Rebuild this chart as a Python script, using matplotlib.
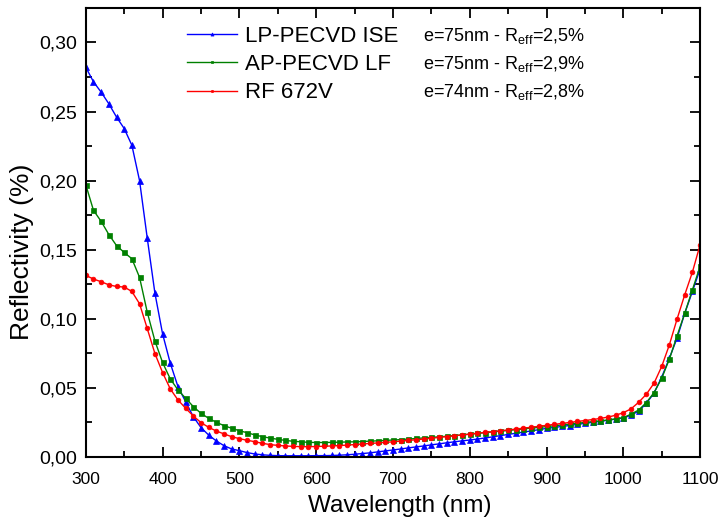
import matplotlib
matplotlib.use("Agg")
import matplotlib.pyplot as plt
from matplotlib.ticker import MultipleLocator, FuncFormatter

plt.rcParams['font.family'] = ['Liberation Sans', 'DejaVu Sans']
plt.rcParams['mathtext.default'] = 'regular'

wavelength = list(range(300, 1101, 10))

lp_pecvd_ise = [
    0.282, 0.2715, 0.264, 0.2556, 0.246, 0.2377, 0.2256, 0.200, 0.1585, 0.1186,
    0.0891, 0.0679, 0.051, 0.040, 0.0292, 0.0213, 0.0159, 0.0116, 0.0082, 0.0058,
    0.0046, 0.0032, 0.0022, 0.0016, 0.0012, 0.0010, 0.0009, 0.0009, 0.0009, 0.0009,
    0.0010, 0.0010, 0.0011, 0.0013, 0.0016, 0.0020, 0.0025, 0.0030, 0.0037, 0.0044,
    0.0051, 0.0058, 0.0066, 0.0073, 0.0080, 0.0088, 0.0095, 0.0103, 0.0110, 0.0117,
    0.0123, 0.0130, 0.0138, 0.0146, 0.0155, 0.0163, 0.0172, 0.0180, 0.0189, 0.0198,
    0.0207, 0.0214, 0.0221, 0.0228, 0.0236, 0.0243, 0.0251, 0.0258, 0.0266, 0.0274,
    0.0283, 0.0302, 0.0333, 0.0388, 0.0462, 0.0578, 0.0715, 0.0860, 0.1040, 0.1198,
    0.1360]

ap_pecvd_lf = [
    0.197, 0.1785, 0.1705, 0.161, 0.153, 0.148, 0.1435, 0.130, 0.1049, 0.084,
    0.0684, 0.0565, 0.0486, 0.0425, 0.0365, 0.0316, 0.028, 0.0251, 0.0227, 0.0208,
    0.019, 0.0176, 0.016, 0.0147, 0.0137, 0.0128, 0.0120, 0.0114, 0.0110, 0.0106,
    0.0105, 0.0105, 0.0106, 0.0107, 0.0109, 0.0110, 0.0112, 0.0115, 0.0117, 0.0120,
    0.0123, 0.0126, 0.0130, 0.0134, 0.0138, 0.0142, 0.0146, 0.0150, 0.0155, 0.0160,
    0.0165, 0.0171, 0.0176, 0.0182, 0.0187, 0.0192, 0.0198, 0.0203, 0.0209, 0.0214,
    0.0220, 0.0226, 0.0232, 0.0238, 0.0244, 0.0250, 0.0256, 0.0262, 0.0268, 0.0276,
    0.0285, 0.0310, 0.0340, 0.0394, 0.0466, 0.0570, 0.0708, 0.0877, 0.1040, 0.1210,
    0.1380]

rf_672v = [
    0.1314, 0.1288, 0.1268, 0.1246, 0.1234, 0.1230, 0.1198, 0.1109, 0.0930, 0.0749,
    0.0611, 0.0493, 0.0413, 0.0353, 0.0297, 0.0249, 0.0215, 0.0188, 0.0167, 0.0147,
    0.0133, 0.0121, 0.0111, 0.0099, 0.0090, 0.0084, 0.0080, 0.0077, 0.0075, 0.0075,
    0.0076, 0.0078, 0.0080, 0.0083, 0.0086, 0.0090, 0.0094, 0.0098, 0.0102, 0.0106,
    0.0110, 0.0115, 0.0120, 0.0125, 0.0130, 0.0136, 0.0142, 0.0148, 0.0154, 0.0160,
    0.0166, 0.0172, 0.0178, 0.0184, 0.0190, 0.0196, 0.0202, 0.0209, 0.0215, 0.0222,
    0.0229, 0.0236, 0.0243, 0.0250, 0.0257, 0.0264, 0.0271, 0.0279, 0.0289, 0.0302,
    0.0321, 0.0348, 0.0396, 0.0454, 0.0534, 0.0655, 0.0812, 0.0998, 0.1174, 0.1338,
    0.1536]

series_labels = ["LP-PECVD ISE", "AP-PECVD LF", "RF 672V"]
annotations = ["e=75nm - R$_{eff}$=2,5%", "e=75nm - R$_{eff}$=2,9%", "e=74nm - R$_{eff}$=2,8%"]

fig = plt.figure(figsize=(7.21, 5.25), dpi=100)
ax = fig.add_axes([0.119, 0.1295, 0.852, 0.8555])

styles = [
    dict(color='#0000ff', marker='^', ms=4.5),
    dict(color='#008000', marker='s', ms=3.6),
    dict(color='#ff0000', marker='o', ms=3.4),
]
for vals, lab, st in zip([lp_pecvd_ise, ap_pecvd_lf, rf_672v], series_labels, styles):
    ax.plot(wavelength, vals, lw=1.0, label=lab, markeredgewidth=0.5, **st)

ax.set_xlim(300, 1100)
ax.set_ylim(0, 0.325)
ax.xaxis.set_major_locator(MultipleLocator(100))
ax.xaxis.set_minor_locator(MultipleLocator(50))
ax.yaxis.set_major_locator(MultipleLocator(0.05))
ax.yaxis.set_minor_locator(MultipleLocator(0.025))
ax.yaxis.set_major_formatter(FuncFormatter(lambda v, p: f"{v:.2f}".replace('.', ',')))
ax.tick_params(which='both', direction='in', top=True, right=True, width=1.3, labelsize=12.5)
ax.tick_params(axis='y', labelsize=14, pad=6)
ax.tick_params(which='major', length=7)
ax.tick_params(which='minor', length=4)
ax.tick_params(axis='x', pad=11)
for sp in ax.spines.values():
    sp.set_linewidth(1.5)

ax.set_xlabel("Wavelength (nm)", fontsize=17.5)
ax.set_ylabel("Reflectivity (%)", fontsize=19)
ax.xaxis.set_label_coords(0.511, -0.108, transform=ax.transAxes)
ax.yaxis.set_label_coords(-0.104, 0.457, transform=ax.transAxes)
ax.xaxis.label.set_va('center')
ax.yaxis.label.set_va('center')

leg = ax.legend(loc='upper left', bbox_to_anchor=(0.14, 0.995), frameon=False,
                fontsize=16, handlelength=2.25, handletextpad=0.36,
                labelspacing=0.33, markerscale=0.5, borderaxespad=0.3)

ys = [0.938, 0.875, 0.812]
for y, t in zip(ys, annotations):
    ax.text(0.549, y, t, transform=ax.transAxes, fontsize=13, va='center', ha='left')

fig.savefig("out.png", dpi=100)
